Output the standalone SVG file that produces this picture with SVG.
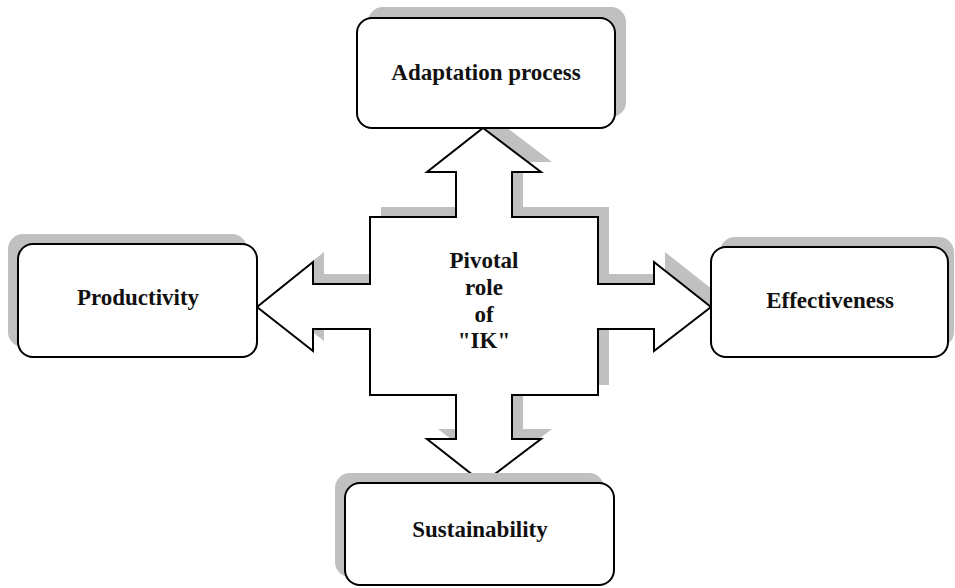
<svg xmlns="http://www.w3.org/2000/svg" width="955" height="588" viewBox="0 0 955 588">
<style>
.box{fill:#fff;stroke:#000;stroke-width:2}
.shadow{fill:#c0c0c0;stroke:none}
.lbl{font-family:"Liberation Serif","Times New Roman",serif;font-weight:bold;font-size:23px;fill:#111;text-anchor:middle}
</style>
<rect width="955" height="588" fill="#fff"/>
<g id="connectors">
<polygon class="shadow" transform="translate(11,-10)" points="483,128 541,172 512,172 512,217 598,217 598,284 654,284 654,262 711,307 654,351 654,329 598,329 598,395 512,395 512,439 541,439 483,483 427,439 456,439 456,395 370,395 370,329 313,329 313,351 257,307 313,262 313,284 370,284 370,217 456,217 456,172 427,172"/>
<polygon class="box" stroke-linejoin="miter" points="483,128 541,172 512,172 512,217 598,217 598,284 654,284 654,262 711,307 654,351 654,329 598,329 598,395 512,395 512,439 541,439 483,483 427,439 456,439 456,395 370,395 370,329 313,329 313,351 257,307 313,262 313,284 370,284 370,217 456,217 456,172 427,172"/>
</g>
<g id="center">
<text class="lbl" x="484" y="268">Pivotal</text>
<text class="lbl" x="484" y="295">role</text>
<text class="lbl" x="484" y="322">of</text>
<text class="lbl" x="484" y="348">"IK"</text>
</g>
<g id="adaptation">
<rect class="shadow" x="368" y="7" width="258" height="110" rx="15"/>
<rect class="box" x="357" y="18" width="258" height="110" rx="15"/>
<text class="lbl" x="486" y="80">Adaptation process</text>
</g>
<g id="productivity">
<rect class="shadow" x="8" y="234" width="239" height="113" rx="15"/>
<rect class="box" x="18" y="244" width="239" height="113" rx="15"/>
<text class="lbl" x="138" y="305">Productivity</text>
</g>
<g id="effectiveness">
<rect class="shadow" x="720" y="237" width="234" height="110" rx="15"/>
<rect class="box" x="711" y="247" width="237" height="110" rx="15"/>
<text class="lbl" x="830" y="308">Effectiveness</text>
</g>
<g id="sustainability">
<rect class="shadow" x="335" y="473" width="269" height="104" rx="15"/>
<rect class="box" x="345" y="483" width="269" height="102" rx="15"/>
<text class="lbl" x="480" y="537">Sustainability</text>
</g>
</svg>
